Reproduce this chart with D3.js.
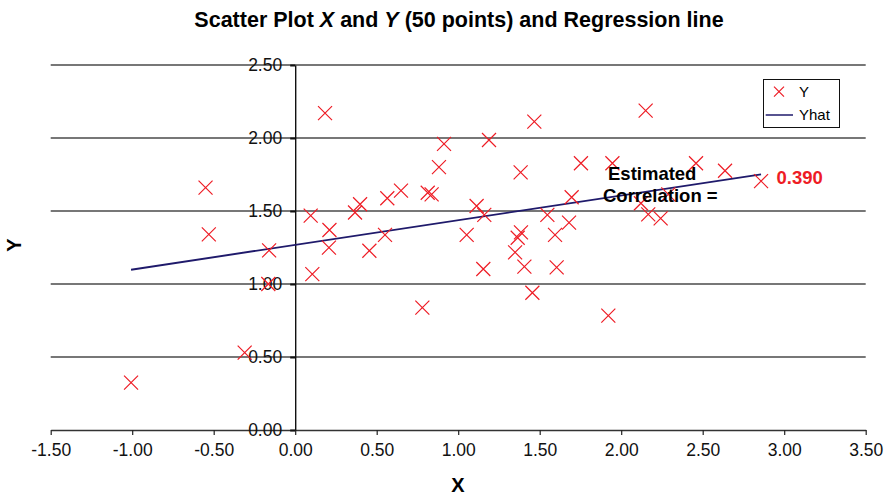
<!DOCTYPE html>
<html>
<head>
<meta charset="utf-8">
<script src="https://cdn.jsdelivr.net/npm/d3@7"></script>
<style>
  html, body { margin: 0; padding: 0; background: #fff; }
  svg { display: block; font-family: "Liberation Sans", Arial, Helvetica, sans-serif; }
</style>
</head>
<body>
<svg id="chart" width="888" height="497"></svg>
<script>
// ---- data ----
const xValues = [-1.007, -0.55, -0.53, -0.31, -0.16, -0.165, 0.183, 0.913, 0.882, 0.649,
  0.565, 0.813, 0.837, 0.398, 0.367, 0.095, 0.21, 0.551, 0.207, 0.455,
  0.105, 0.78, 1.467, 1.189, 1.753, 1.946, 1.383, 1.696, 1.113, 1.16,
  1.547, 1.68, 1.052, 1.385, 1.365, 1.594, 1.349, 1.154, 1.406, 1.604,
  1.455, 1.921, 2.15, 2.459, 2.637, 2.858, 2.121, 2.166, 2.242, 2.289];
const yValues = [0.324, 1.66, 1.34, 0.53, 1.23, 1.00, 2.17, 1.96, 1.80, 1.64,
  1.587, 1.625, 1.614, 1.546, 1.49, 1.468, 1.37, 1.336, 1.249, 1.228,
  1.068, 0.838, 2.112, 1.986, 1.827, 1.827, 1.765, 1.594, 1.534, 1.473,
  1.473, 1.42, 1.336, 1.354, 1.317, 1.336, 1.217, 1.103, 1.119, 1.114,
  0.94, 0.783, 2.187, 1.827, 1.776, 1.705, 1.553, 1.477, 1.45, 1.614];
const regression = { intercept: 1.268, slope: 0.169 };
const correlationText = "0.390";
const xTicks = [-1.5, -1.0, -0.5, 0, 0.5, 1.0, 1.5, 2.0, 2.5, 3.0, 3.5];
const yTicks = [0, 0.5, 1.0, 1.5, 2.0, 2.5];
const seriesNames = ["Y", "Yhat"];

// ---- layout ----
const svg = d3.select("#chart");
const x = d3.scaleLinear().domain([-1.5, 3.5]).range([50.7, 865.7]);
const y = d3.scaleLinear().domain([0, 2.5]).range([430, 65]);
const red = "#ee1c25";
const navy = "#1f1a6b";
const fmt = d => d3.format(".2f")(d).replace("\u2212", "-");

// gridlines
svg.append("g").selectAll("line").data(yTicks.filter(d => d > 0)).join("line")
  .attr("x1", x.range()[0]).attr("x2", x.range()[1])
  .attr("y1", d => y(d)).attr("y2", d => y(d))
  .attr("stroke", "#4a4a4a").attr("stroke-width", 1.4);

// x axis
const xAxis = svg.append("g").attr("transform", `translate(0,${y(0)})`)
  .call(d3.axisBottom(x).tickValues(xTicks).tickFormat(fmt).tickSize(5).tickSizeOuter(0).tickPadding(9));
xAxis.select(".domain").attr("stroke", "#333").attr("stroke-width", 1.4);
xAxis.selectAll(".tick line").attr("stroke", "#222").attr("stroke-width", 1.2);
xAxis.selectAll("text").attr("font-size", 17.5).attr("fill", "#111").attr("font-family", "'Liberation Sans', Arial, sans-serif");

// y axis at x = 0
const yAxis = svg.append("g").attr("transform", `translate(${x(0)},0)`)
  .call(d3.axisLeft(y).tickValues(yTicks).tickFormat(fmt).tickSize(5).tickSizeOuter(0).tickPadding(8));
yAxis.select(".domain").attr("stroke", "#111").attr("stroke-width", 1.4);
yAxis.selectAll(".tick line").attr("stroke", "#111").attr("stroke-width", 2);
yAxis.selectAll("text").attr("font-size", 17.5).attr("fill", "#111").attr("font-family", "'Liberation Sans', Arial, sans-serif");

// regression line over data extent
const xExt = d3.extent(xValues);
const lineData = xExt.map(v => ({ x: v, y: regression.intercept + regression.slope * v }));
svg.append("path").datum(lineData)
  .attr("d", d3.line().x(d => x(d.x)).y(d => y(d.y)))
  .attr("stroke", navy).attr("stroke-width", 1.9).attr("fill", "none");

// scatter X markers
const pts = xValues.map((v, i) => ({ x: v, y: yValues[i] }));
const s = 7;
svg.append("g").selectAll("path").data(pts).join("path")
  .attr("d", d => `M${x(d.x) - s},${y(d.y) - s}L${x(d.x) + s},${y(d.y) + s}M${x(d.x) - s},${y(d.y) + s}L${x(d.x) + s},${y(d.y) - s}`)
  .attr("stroke", red).attr("stroke-width", 1.2).attr("fill", "none");

// annotation
svg.append("text").attr("x", 608).attr("y", 180).attr("font-size", 18.5).attr("font-weight", "bold").attr("fill", "#000").text("Estimated");
svg.append("text").attr("x", 603).attr("y", 201.5).attr("font-size", 18.5).attr("font-weight", "bold").attr("fill", "#000").text("Correlation =");
svg.append("text").attr("x", 776.5).attr("y", 184).attr("font-size", 18.5).attr("font-weight", "bold").attr("fill", red).text(correlationText);

// legend
const lg = svg.append("g");
lg.append("rect").attr("x", 763.5).attr("y", 79.5).attr("width", 76).attr("height", 48)
  .attr("fill", "#fff").attr("stroke", "#111").attr("stroke-width", 1);
const lx = 779, ly = 91.7, ls = 5;
lg.append("path").attr("d", `M${lx - ls},${ly - ls}L${lx + ls},${ly + ls}M${lx - ls},${ly + ls}L${lx + ls},${ly - ls}`)
  .attr("stroke", red).attr("stroke-width", 1.2);
lg.append("line").attr("x1", 765.7).attr("x2", 793).attr("y1", 115).attr("y2", 115).attr("stroke", navy).attr("stroke-width", 1.5);
lg.append("text").attr("x", 799).attr("y", 96.5).attr("font-size", 15).text(seriesNames[0]);
lg.append("text").attr("x", 799).attr("y", 120).attr("font-size", 15).text(seriesNames[1]);

// title
const title = svg.append("text").attr("x", 459).attr("y", 27).attr("text-anchor", "middle")
  .attr("font-size", 21.5).attr("font-weight", "bold").attr("fill", "#000");
title.append("tspan").text("Scatter Plot ");
title.append("tspan").attr("font-style", "italic").text("X");
title.append("tspan").text(" and ");
title.append("tspan").attr("font-style", "italic").text("Y");
title.append("tspan").text(" (50 points) and Regression line");

// axis titles
svg.append("text").attr("x", 458).attr("y", 492).attr("text-anchor", "middle")
  .attr("font-size", 20).attr("font-weight", "bold").text("X");
svg.append("text").attr("transform", "translate(21,245) rotate(-90)").attr("text-anchor", "middle")
  .attr("font-size", 20).attr("font-weight", "bold").text("Y");
</script>
</body>
</html>
